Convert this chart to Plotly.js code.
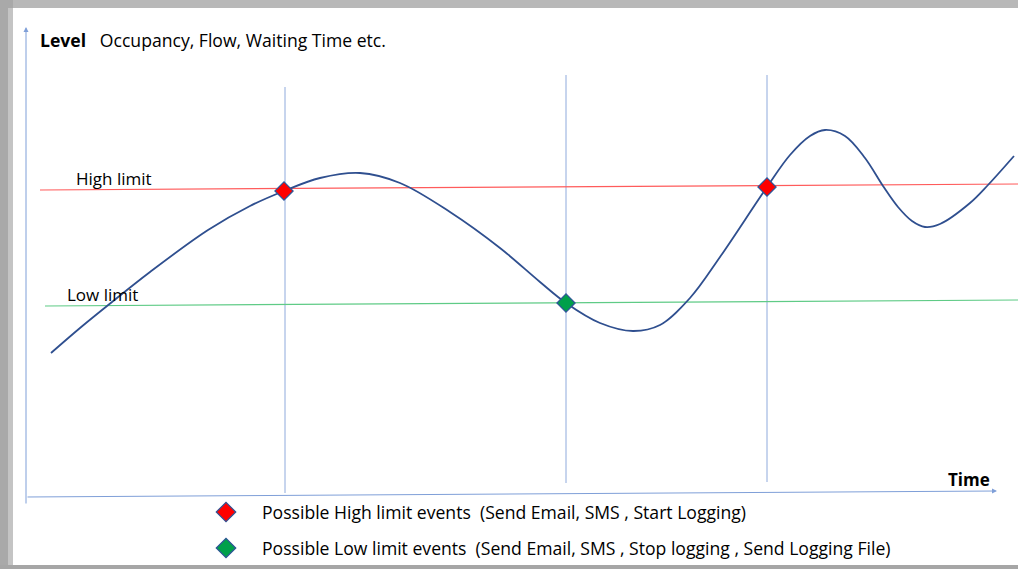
<!DOCTYPE html>
<html>
<head>
<meta charset="utf-8">
<script src="https://cdn.plot.ly/plotly-3.0.1.min.js"></script>
<style>html,body{margin:0;padding:0;background:#fff;}#chart{width:1018px;height:569px;}</style>
</head>
<body>
<div id="chart"></div>
<script>
// Signal curve (time, level) in arbitrary diagram units
const curveTime  = [25, 54, 81, 124, 182, 224, 258, 294, 334, 374, 424, 474, 514, 540, 574, 607, 634, 664, 694, 741, 764, 784, 799, 819, 839, 857, 872, 886, 899, 914, 944, 962, 988];
const curveLevel = [144, 169, 191, 225, 267, 291, 306, 319, 324, 314, 285, 249, 215, 194, 174, 166, 172, 199, 240, 310, 342, 361, 367, 361, 339, 311, 290, 276, 270, 273, 294, 312, 341];

// Limit lines
const highLimitTime  = [14, 992];
const highLimitLevel = [307, 313];
const lowLimitTime   = [19, 992];
const lowLimitLevel  = [191, 197];

// Event markers
const highEventTime  = [258, 741];
const highEventLevel = [306, 310];
const lowEventTime   = [540];
const lowEventLevel  = [194];

// Vertical event guide lines
const guideTime   = [259, 540, 741];
const guideBottom = [4, 14, 15];
const guideTop    = [410, 422, 422];

// Texts
const yLabelBold = 'Level';
const yLabelRest = 'Occupancy, Flow, Waiting Time etc.';
const xLabel = 'Time';
const highLabel = 'High limit';
const lowLabel = 'Low limit';
const legendHigh = 'Possible High limit events  (Send Email, SMS , Start Logging)';
const legendLow  = 'Possible Low limit events  (Send Email, SMS , Stop logging , Send Logging File)';
const legendTime  = [200, 200];
const legendLevel = [-15, -51];

const FONT = '"Open Sans", Lato, sans-serif';
const traces = [];

guideTime.forEach((t, i) => {
  traces.push({x: [t, t], y: [guideBottom[i], guideTop[i]], mode: 'lines',
    line: {color: '#8FAADC', width: 1}, hoverinfo: 'skip', showlegend: false});
});
traces.push({x: highLimitTime, y: highLimitLevel, mode: 'lines',
  line: {color: '#FF5B5B', width: 1.2}, showlegend: false});
traces.push({x: lowLimitTime, y: lowLimitLevel, mode: 'lines',
  line: {color: '#5FCB86', width: 1.2}, showlegend: false});
traces.push({x: curveTime, y: curveLevel, mode: 'lines',
  line: {color: '#2F4F8F', width: 1.8, shape: 'spline', smoothing: 1}, showlegend: false});
traces.push({x: highEventTime, y: highEventLevel, mode: 'markers',
  marker: {symbol: 'diamond', size: 14, color: '#FF0000', line: {color: '#2F5597', width: 1.2}}, showlegend: false});
traces.push({x: lowEventTime, y: lowEventLevel, mode: 'markers',
  marker: {symbol: 'diamond', size: 14, color: '#00A04A', line: {color: '#2F5597', width: 1.2}}, showlegend: false});
traces.push({x: [legendTime[0]], y: [legendLevel[0]], mode: 'markers',
  marker: {symbol: 'diamond', size: 15, color: '#FF0000', line: {color: '#2F5597', width: 1.2}}, showlegend: false});
traces.push({x: [legendTime[1]], y: [legendLevel[1]], mode: 'markers',
  marker: {symbol: 'diamond', size: 15, color: '#00A04A', line: {color: '#2F5597', width: 1.2}}, showlegend: false});

const txt = (x, y, text, size, extra) => Object.assign({x, y, xref: 'x', yref: 'y', text, showarrow: false,
  xanchor: 'left', yanchor: 'middle', font: {family: FONT, size, color: '#000'}}, extra || {});

const annotations = [
  // axes arrows
  {x: 971, y: 6, ax: 0, ay: 0, xref: 'x', yref: 'y', axref: 'x', ayref: 'y', showarrow: true,
    arrowhead: 2, arrowsize: 1, arrowwidth: 1, arrowcolor: '#7F9FD8', text: ''},
  {x: 0, y: 470, ax: 0, ay: -8, xref: 'x', yref: 'y', axref: 'x', ayref: 'y', showarrow: true,
    arrowhead: 2, arrowsize: 1, arrowwidth: 1, arrowcolor: '#7F9FD8', text: ''},
  txt(12, 457, '<b>' + yLabelBold + '</b>   ' + yLabelRest, 17.6),
  txt(920, 18, '<b>' + xLabel + '</b>', 17),
  txt(48, 319, highLabel, 17),
  txt(39, 203, lowLabel, 17),
  txt(234, legendLevel[0], legendHigh, 17.6),
  txt(234, legendLevel[1], legendLow, 17.6)
];

const shapes = [
  {type: 'rect', xref: 'paper', yref: 'paper', x0: 0, x1: 1, y0: 1 - 8/569, y1: 1, fillcolor: '#B8B8B8', line: {width: 0}, layer: 'below'},
  {type: 'rect', xref: 'paper', yref: 'paper', x0: 0, x1: 13/1018, y0: 0, y1: 1, fillcolor: '#A9A9A9', line: {width: 0}, layer: 'below'},
  {type: 'rect', xref: 'paper', yref: 'paper', x0: 8/1018, x1: 13/1018, y0: 0, y1: 1 - 8/569, fillcolor: '#C4C4C4', line: {width: 0}, layer: 'below'},
  {type: 'rect', xref: 'paper', yref: 'paper', x0: 0, x1: 1, y0: 0, y1: 4/569, fillcolor: '#A6A6A6', line: {width: 0}, layer: 'below'}
];

const layout = {
  width: 1018, height: 569,
  margin: {l: 0, r: 0, t: 0, b: 0},
  paper_bgcolor: '#FFFFFF', plot_bgcolor: 'rgba(0,0,0,0)',
  xaxis: {range: [-26, 992], visible: false, fixedrange: true},
  yaxis: {range: [-72, 497], visible: false, fixedrange: true},
  annotations, shapes, showlegend: false
};

Plotly.newPlot('chart', traces, layout, {displayModeBar: false, staticPlot: true});
</script>
</body>
</html>
